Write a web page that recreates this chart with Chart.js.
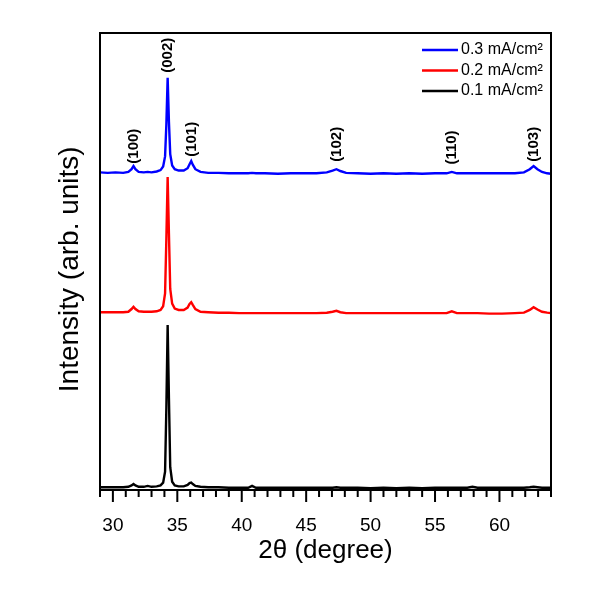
<!DOCTYPE html>
<html>
<head>
<meta charset="utf-8">
<script src="https://cdn.jsdelivr.net/npm/chart.js@4.4.0/dist/chart.umd.min.js"></script>
<style>
  html, body { margin: 0; padding: 0; background: #fff; }
  #wrap { width: 604px; height: 604px; }
</style>
</head>
<body>
<div id="wrap"><canvas id="chart" width="604" height="604"></canvas></div>
<script>
// 2-theta grid shared by the three patterns
const angles = [29.0, 29.6, 30.2, 30.8, 31.2, 31.45, 31.6, 31.75, 32.0, 32.4,
  32.7, 33.0, 33.4, 33.7, 33.9, 34.05, 34.15, 34.25, 34.35, 34.45,
  34.6, 34.8, 35.1, 35.5, 35.8, 35.95, 36.08, 36.2, 36.4, 36.8,
  37.4, 38.2, 39.0, 39.8, 40.5, 40.8, 41.1, 41.8, 42.8, 43.8,
  44.8, 45.8, 46.6, 47.05, 47.35, 47.65, 48.1, 49.0, 50.0, 51.0,
  52.0, 53.0, 54.0, 55.0, 55.9, 56.3, 56.7, 57.5, 57.9, 58.3,
  59.2, 60.2, 61.2, 61.9, 62.35, 62.65, 62.95, 63.3, 63.7, 64.0];

// intensities (arb. units, already stacked with offsets)
const i03 = [69.5, 69.4, 69.5, 69.4, 69.6, 70.2, 70.9, 70.2, 69.6, 69.5,
  69.6, 69.5, 69.7, 70.0, 70.8, 73.0, 80.0, 90.2, 80.5, 73.5,
  71.0, 70.2, 69.9, 69.9, 70.4, 71.3, 72.0, 71.2, 70.2, 69.6,
  69.4, 69.4, 69.3, 69.3, 69.3, 69.4, 69.3, 69.3, 69.2, 69.3,
  69.3, 69.3, 69.5, 69.9, 70.2, 69.8, 69.4, 69.3, 69.2, 69.3,
  69.2, 69.3, 69.2, 69.3, 69.3, 69.6, 69.3, 69.3, 69.3, 69.3,
  69.3, 69.3, 69.3, 69.5, 70.2, 70.9, 70.2, 69.6, 69.3, 69.2];

const i02 = [38.9, 38.9, 38.9, 38.9, 39.0, 39.6, 40.1, 39.6, 39.1, 39.0,
  39.0, 39.0, 39.1, 39.4, 40.2, 43.0, 55.0, 68.5, 56.0, 44.0,
  40.8, 39.7, 39.4, 39.4, 39.9, 40.7, 41.1, 40.5, 39.6, 39.0,
  38.9, 38.8, 38.8, 38.7, 38.7, 38.7, 38.7, 38.7, 38.7, 38.7,
  38.7, 38.7, 38.8, 39.0, 39.2, 38.9, 38.7, 38.7, 38.7, 38.7,
  38.7, 38.7, 38.7, 38.7, 38.7, 39.1, 38.7, 38.7, 38.7, 38.7,
  38.6, 38.6, 38.7, 38.8, 39.4, 40.0, 39.5, 39.0, 38.8, 38.7];

const i01 = [0.6, 0.6, 0.6, 0.6, 0.7, 1.0, 1.3, 1.0, 0.7, 0.7,
  0.9, 0.7, 0.8, 1.0, 1.6, 4.0, 18.0, 36.1, 20.0, 5.0,
  1.8, 1.0, 0.8, 0.8, 1.1, 1.5, 1.6, 1.3, 0.9, 0.7,
  0.6, 0.6, 0.5, 0.5, 0.5, 0.9, 0.5, 0.5, 0.5, 0.5,
  0.5, 0.5, 0.5, 0.5, 0.6, 0.5, 0.5, 0.5, 0.4, 0.5,
  0.4, 0.5, 0.4, 0.5, 0.5, 0.5, 0.5, 0.5, 0.7, 0.5,
  0.5, 0.5, 0.5, 0.5, 0.6, 0.7, 0.6, 0.5, 0.5, 0.5];

const seriesNames = ['0.3 mA/cm²', '0.2 mA/cm²', '0.1 mA/cm²'];
const seriesColors = ['#0000ff', '#ff0000', '#000000'];

// Miller indices marked above the top pattern
const peakNames = ['(100)', '(002)', '(101)', '(102)', '(110)', '(103)'];
const peakAngles = [31.6, 34.25, 36.1, 47.35, 56.3, 62.65];
const peakLabelLevels = [71.4, 91.3, 72.9, 71.8, 71.2, 71.8];

const xTicks = [30, 35, 40, 45, 50, 55, 60];

const toPoints = (ys) => angles.map((a, i) => ({ x: a, y: ys[i] }));

// plot frame plus major (12px) and minor (7px) outward ticks
const frameAndTicks = {
  id: 'frameAndTicks',
  afterDraw(chart) {
    const { ctx, chartArea: a, scales: { x } } = chart;
    ctx.save();
    ctx.strokeStyle = '#000';
    ctx.lineWidth = 2;
    ctx.strokeRect(a.left, a.top, a.right - a.left, a.bottom - a.top);
    ctx.beginPath();
    for (let v = Math.ceil(x.min); v <= x.max; v++) {
      const px = x.getPixelForValue(v);
      ctx.moveTo(px, a.bottom);
      ctx.lineTo(px, a.bottom + (v % 5 === 0 ? 12 : 7));
    }
    ctx.stroke();
    ctx.restore();
  }
};

const peakLabels = {
  id: 'peakLabels',
  afterDatasetsDraw(chart) {
    const { ctx, scales: { x, y } } = chart;
    ctx.save();
    ctx.fillStyle = '#000';
    ctx.font = 'bold 15px "Liberation Sans", Arial, sans-serif';
    ctx.textAlign = 'left';
    ctx.textBaseline = 'middle';
    peakNames.forEach((name, i) => {
      ctx.save();
      ctx.translate(x.getPixelForValue(peakAngles[i]), y.getPixelForValue(peakLabelLevels[i]));
      ctx.rotate(-Math.PI / 2);
      ctx.fillText(name, 0, 0);
      ctx.restore();
    });
    ctx.restore();
  }
};

const insideLegend = {
  id: 'insideLegend',
  afterDraw(chart) {
    const { ctx, chartArea: a } = chart;
    ctx.save();
    ctx.font = '16px "Liberation Sans", Arial, sans-serif';
    ctx.textBaseline = 'middle';
    ctx.textAlign = 'left';
    chart.data.datasets.forEach((ds, i) => {
      const yy = a.top + 17 + i * 20.5;
      ctx.strokeStyle = ds.borderColor;
      ctx.lineWidth = 2.5;
      ctx.beginPath();
      ctx.moveTo(a.right - 129, yy);
      ctx.lineTo(a.right - 93, yy);
      ctx.stroke();
      ctx.fillStyle = '#000';
      ctx.fillText(ds.label, a.right - 90, yy);
    });
    ctx.restore();
  }
};

new Chart(document.getElementById('chart').getContext('2d'), {
  type: 'line',
  data: {
    datasets: [i03, i02, i01].map((ys, i) => ({
      label: seriesNames[i],
      data: toPoints(ys),
      borderColor: seriesColors[i],
      borderWidth: 2.4,
      pointRadius: 0,
      tension: 0,
      fill: false
    }))
  },
  options: {
    responsive: false,
    animation: false,
    layout: { padding: { left: 50, right: 53, top: 33, bottom: 33.8 } },
    plugins: { legend: { display: false }, tooltip: { enabled: false } },
    scales: {
      x: {
        type: 'linear',
        min: 29,
        max: 64,
        afterBuildTicks: (scale) => { scale.ticks = xTicks.map(v => ({ value: v })); },
        ticks: {
          color: '#000',
          padding: 0,
          font: { family: '"Liberation Sans", Arial, sans-serif', size: 19, lineHeight: 1 }
        },
        grid: {
          drawOnChartArea: false,
          drawTicks: true,
          tickLength: 26,
          tickColor: 'rgba(0,0,0,0)'
        },
        border: { display: false },
        title: {
          display: true,
          text: '2θ (degree)',
          color: '#000',
          padding: { top: 0, bottom: 4 },
          font: { family: '"Liberation Sans", Arial, sans-serif', size: 26 }
        }
      },
      y: {
        min: 0,
        max: 100,
        ticks: { display: false },
        grid: { display: false, drawTicks: false },
        border: { display: false },
        title: {
          display: true,
          text: 'Intensity (arb. units)  ',
          color: '#000',
          padding: { top: 3.2, bottom: 13.2 },
          font: { family: '"Liberation Sans", Arial, sans-serif', size: 28 }
        }
      }
    }
  },
  plugins: [frameAndTicks, peakLabels, insideLegend]
});
</script>
</body>
</html>
